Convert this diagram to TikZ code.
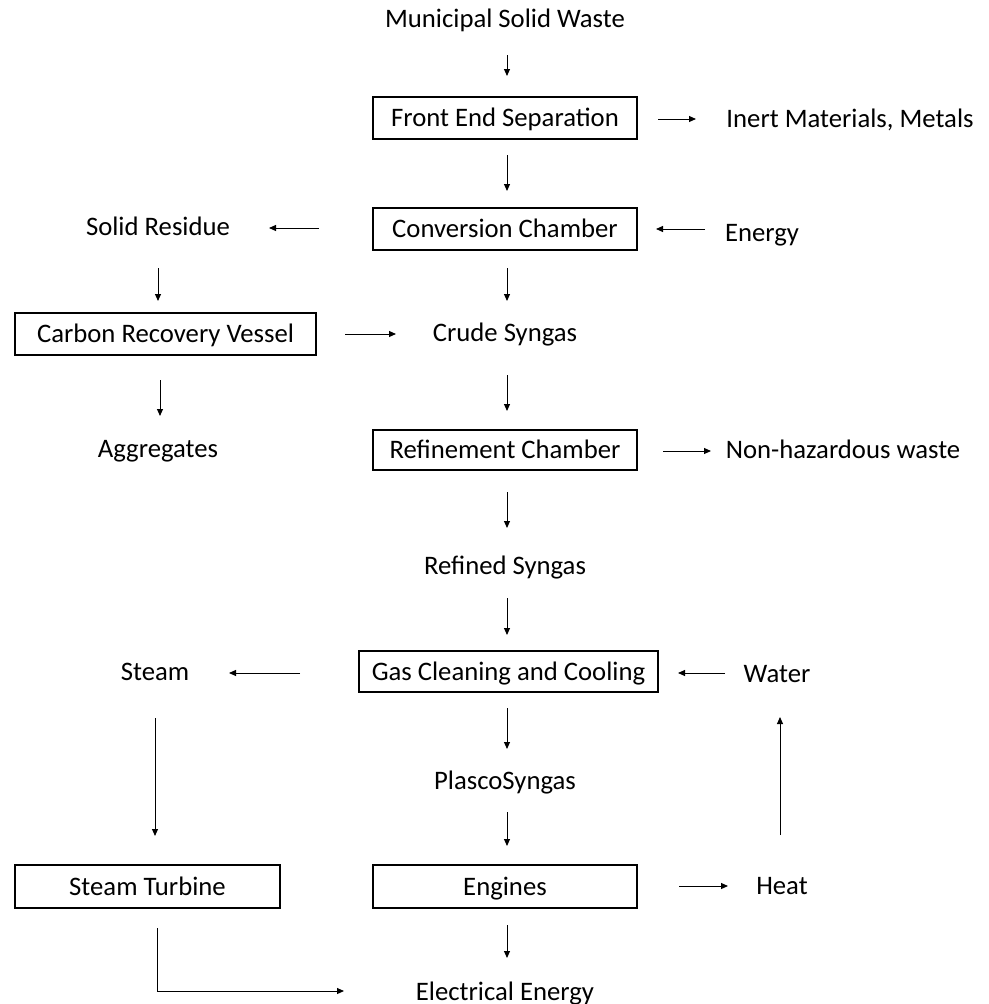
\documentclass[tikz,border=0pt]{standalone}
\usepackage{fontspec}
\setmainfont{Carlito}
\usetikzlibrary{arrows.meta}
\begin{document}
\begin{tikzpicture}[x=1pt,y=-1pt,
  every node/.style={font=\fontsize{26.7}{32}\selectfont, inner sep=0pt,
                     text height=20pt, text depth=2.8pt},
  stage/.style={draw, line width=1.3pt, minimum height=42pt},
  label/.style={},
  arr/.style={line width=1pt, -{Triangle[length=7pt,width=6pt]}}]
\useasboundingbox (0,0) rectangle (988,1004);

% process boxes
\node[stage, minimum width=264pt] (fes) at (505,118) {Front End Separation};
\node[stage, minimum width=264pt] (cc)  at (505,229) {Conversion Chamber};
\node[stage, minimum width=301pt] (crv) at (165.5,334) {Carbon Recovery Vessel};
\node[stage, minimum width=264pt, minimum height=40pt] (rc) at (505,450) {Refinement Chamber};
\node[stage, minimum width=299pt, minimum height=41pt] (gcc) at (508.5,671.5) {Gas Cleaning and Cooling};
\node[stage, minimum width=265pt, minimum height=43pt] (st) at (147.5,886.5) {Steam Turbine};
\node[stage, minimum width=264pt, minimum height=43pt] (eng) at (505,886.5) {Engines};

% streams
\node[label] (msw) at (505,19) {Municipal Solid Waste};
\node[label] (inert) at (850,119) {Inert Materials, Metals};
\node[label] (energy) at (762,233) {Energy};
\node[label] (sr) at (158,227) {Solid Residue};
\node[label] (crude) at (505,333) {Crude Syngas};
\node[label] (agg) at (158,449) {Aggregates};
\node[label] (nhw) at (843,450) {Non-hazardous waste};
\node[label] (refined) at (505,566) {Refined Syngas};
\node[label] (steam) at (155,672) {Steam};
\node[label] (water) at (777,674) {Water};
\node[label] (plasco) at (505,781) {PlascoSyngas};
\node[label] (heat) at (782,886) {Heat};
\node[label] (elec) at (505,992) {Electrical Energy};

% arrow end points
\coordinate (a1s) at (507,55);  \coordinate (a1e) at (507,76);
\coordinate (a2s) at (658,119); \coordinate (a2e) at (696,119);
\coordinate (a3s) at (507,155); \coordinate (a3e) at (507,191);
\coordinate (a4s) at (705,229); \coordinate (a4e) at (656,229);
\coordinate (a5s) at (319,228); \coordinate (a5e) at (269,228);
\coordinate (a6s) at (507,268); \coordinate (a6e) at (507,301);
\coordinate (a7s) at (158,268); \coordinate (a7e) at (158,301);
\coordinate (a8s) at (345,334); \coordinate (a8e) at (396,334);
\coordinate (a9s) at (160,380); \coordinate (a9e) at (160,416);
\coordinate (a10s) at (507,375); \coordinate (a10e) at (507,411);
\coordinate (a11s) at (663,451); \coordinate (a11e) at (711,451);
\coordinate (a12s) at (507,492); \coordinate (a12e) at (507,528);
\coordinate (a13s) at (507,598); \coordinate (a13e) at (507,635);
\coordinate (a14s) at (725,673); \coordinate (a14e) at (678,673);
\coordinate (a15s) at (300,673); \coordinate (a15e) at (229,673);
\coordinate (a16s) at (155,718); \coordinate (a16e) at (155,836);
\coordinate (a17s) at (780,835); \coordinate (a17e) at (780,717);
\coordinate (a18s) at (507,708); \coordinate (a18e) at (507,749);
\coordinate (a19s) at (507,812); \coordinate (a19e) at (507,846);
\coordinate (a20s) at (679,886); \coordinate (a20e) at (728,886);
\coordinate (a21s) at (507,925); \coordinate (a21e) at (507,958);
\coordinate (a22s) at (157,928); \coordinate (a22e) at (344,991);

% connectors
\foreach \i in {1,...,21}
  \draw[arr] (a\i s) -- (a\i e);
\draw[arr] (a22s) |- (a22e);
\end{tikzpicture}
\end{document}
